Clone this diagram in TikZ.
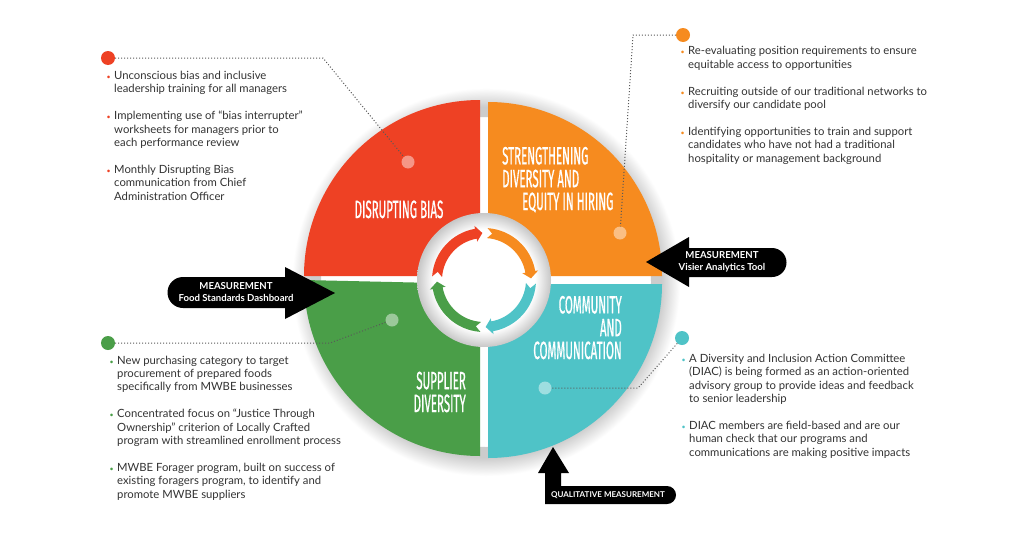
\documentclass[tikz,border=0pt]{standalone}
\usepackage{fontspec}
\setmainfont{Lato}
\newfontfamily\headfont[FakeStretch=0.46, FakeBold=0.6]{Fira Sans}
\usetikzlibrary{calc}

\definecolor{biasred}{HTML}{EE4124}
\definecolor{hireorange}{HTML}{F68B1F}
\definecolor{commteal}{HTML}{4FC3C7}
\definecolor{supgreen}{HTML}{4A9E48}
\definecolor{bodygray}{HTML}{333333}

\pgfdeclareradialshading{pieshadow}{\pgfpoint{0bp}{0bp}}{color(0bp)=(black!20); color(22.6bp)=(black!20); color(25bp)=(white); color(50bp)=(white)}
\pgfdeclareradialshading{hubshade}{\pgfpoint{0bp}{0bp}}{color(0bp)=(white); color(19bp)=(white); color(25bp)=(black!22); color(50bp)=(black!22)}

\newcommand{\bul}[1]{\llap{\textcolor{#1}{\scriptsize\textbullet}\hspace{3.5pt}}}

\begin{document}
\begin{tikzpicture}[x=1pt, y=1pt,
    bigdot/.style={circle, minimum size=14pt, inner sep=0pt},          % coloured dot by each list
    pin/.style={circle, fill=white, fill opacity=0.45, minimum size=13pt, inner sep=0pt}, % pale dot on the pie
    leader/.style={black!65, line width=1pt, dash pattern=on 1pt off 2pt},
    qtitle/.style={text=white, font=\headfont\fontsize{25}{22.8}\selectfont, inner sep=0pt},
    bullets/.style={text=bodygray, font=\fontsize{11.3}{13.3}\selectfont, align=left, inner sep=0pt, anchor=base west}, % base = last line
    tag/.style={text=white, font=\bfseries\fontsize{9.6}{12}\selectfont, align=center, inner sep=0pt}
]
\useasboundingbox (0,0) rectangle (1024,-538);
\fill[white] (0,0) rectangle (1024,-538);

% soft shadow under the pie
\shade[shading=pieshadow, even odd rule] (486,-282) circle (194) (486,-282) circle (165);

% the four quarters
\fill[biasred] (480,-276) -- (304,-276) arc[start angle=180, end angle=90, radius=176] -- cycle;
\fill[hireorange] (488,-276) -- (488,-102) arc[start angle=90, end angle=0, radius=174] -- cycle;
\fill[commteal] (488,-284) -- (662,-284) arc[start angle=0, end angle=-90, radius=174] -- cycle;
\fill[supgreen] (480,-284) -- (480,-456) arc[start angle=-90, end angle=-180, radius=176] -- cycle;

% hub with the turning arrows
\coordinate (hub) at (484,-280);
\shade[shading=hubshade] (hub) circle (67);
\begin{scope}[shift={(hub)}]
  \foreach \s/\c in {176/biasred, 86/hireorange, -4/commteal, -94/supgreen}{
    \fill[\c] (\s:52) arc[start angle=\s, end angle=\s-76, radius=52] -- (\s-76:55) -- (\s-84:47)
      -- (\s-76:39) -- (\s-76:42) arc[start angle=\s-76, end angle=\s, radius=42] -- (\s-6:47) -- cycle;
  }
\end{scope}

% quarter titles
\node[qtitle, anchor=base] (biastitle) at (399,-218) {DISRUPTING BIAS};
\node[qtitle, align=left, anchor=base west] (hiretitle) at (502,-210) {STRENGTHENING\\DIVERSITY AND\\\hspace*{20pt}EQUITY IN HIRING};
\node[qtitle, align=right, anchor=base east] (commtitle) at (622,-359) {COMMUNITY\\AND\\COMMUNICATION};
\node[qtitle, align=right, anchor=base east] (suptitle) at (466,-412) {SUPPLIER\\DIVERSITY};

% dots and leaders
\node[bigdot, fill=biasred] (biasdot) at (108,-58) {};
\node[pin] (biaspin) at (408,-162) {};
\coordinate (biasbend) at (323,-58);
\draw[leader] (biasdot) -- (biasbend) -- (biaspin);

\node[bigdot, fill=hireorange] (hiredot) at (683,-35) {};
\node[pin] (hirepin) at (620,-233) {};
\coordinate (hirebend) at (633,-35);
\draw[leader] (hiredot) -- (hirebend) -- (hirepin);

\node[bigdot, fill=supgreen] (supdot) at (108,-343) {};
\node[pin] (suppin) at (392,-320) {};
\coordinate (supbend) at (330,-343);
\draw[leader] (supdot) -- (supbend) -- (suppin);

\node[bigdot, fill=commteal] (commdot) at (682,-338) {};
\node[pin] (commpin) at (545,-388) {};
\coordinate (commbend) at (638,-388);
\draw[leader] (commdot) -- (commbend) -- (commpin);

% lists
\node[bullets] (biastext) at (114,-200) {\bul{biasred}Unconscious bias and inclusive\\leadership training for all managers\\[13.7pt]
  \bul{biasred}Implementing use of “bias interrupter”\\worksheets for managers prior to\\each performance review\\[13.7pt]
  \bul{biasred}Monthly Disrupting Bias\\communication from Chief\\Administration Officer};
\node[bullets] (hiretext) at (688,-162) {\bul{hireorange}Re-evaluating position requirements to ensure\\equitable access to opportunities\\[13.7pt]
  \bul{hireorange}Recruiting outside of our traditional networks to\\diversify our candidate pool\\[13.7pt]
  \bul{hireorange}Identifying opportunities to train and support\\candidates who have not had a traditional\\hospitality or management background};
\node[bullets] (suptext) at (117,-498) {\bul{supgreen}New purchasing category to target\\procurement of prepared foods\\specifically from MWBE businesses\\[13.7pt]
  \bul{supgreen}Concentrated focus on “Justice Through\\Ownership” criterion of Locally Crafted\\program with streamlined enrollment process\\[13.7pt]
  \bul{supgreen}MWBE Forager program, built on success of\\existing foragers program, to identify and\\promote MWBE suppliers};
\node[bullets] (commtext) at (689,-456) {\bul{commteal}A Diversity and Inclusion Action Committee\\(DIAC) is being formed as an action-oriented\\advisory group to provide ideas and feedback\\to senior leadership\\[13.7pt]
  \bul{commteal}DIAC members are field-based and are our\\human check that our programs and\\communications are making positive impacts};

% measurement arrows
\fill[black] (183,-277) -- (285,-277) -- (285,-267) -- (335,-293) -- (285,-319) -- (285,-308) -- (183,-308)
  arc[start angle=270, end angle=90, radius=15.5] -- cycle;
\node[tag] (foodtag) at (236,-292) {MEASUREMENT\\Food Standards Dashboard};

\fill[black] (646,-262) -- (689,-237) -- (689,-248) -- (772,-248) arc[start angle=90, end angle=-90, radius=14.5]
  -- (689,-277) -- (689,-287) -- cycle;
\node[tag] (visiertag) at (722,-262) {MEASUREMENT\\Visier Analytics Tool};

\fill[black] (553,-447) -- (569,-473) -- (561,-473) -- (561,-486) -- (667,-486) arc[start angle=90, end angle=-90, radius=9]
  -- (545,-504) -- (545,-473) -- (538,-473) -- cycle;
\node[tag, font=\bfseries\fontsize{8}{9}\selectfont] (qualtag) at (608,-495) {QUALITATIVE MEASUREMENT};
\end{tikzpicture}
\end{document}
